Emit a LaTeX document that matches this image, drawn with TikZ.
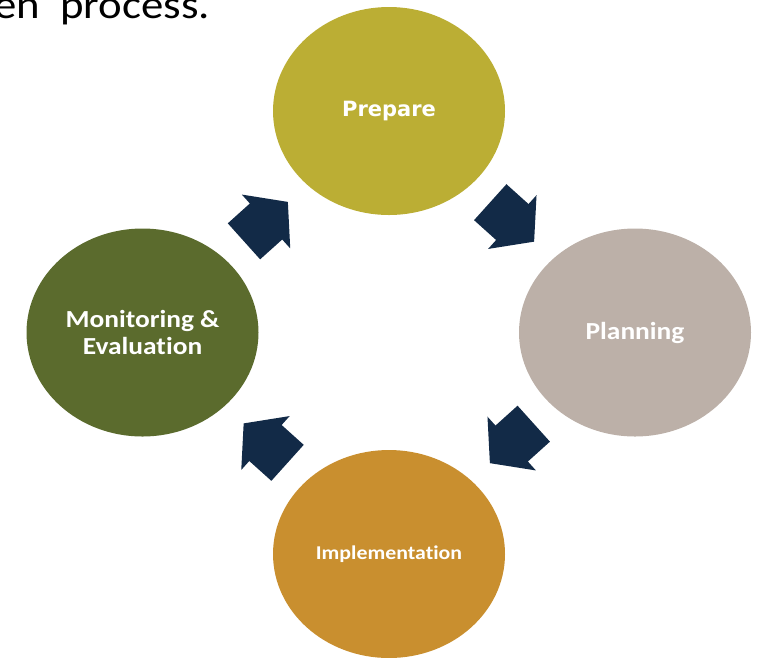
\documentclass[tikz,border=0pt]{standalone}
\usepackage{fontspec}
\newfontfamily\calfont[FakeStretch=1.12,Ligatures=NoCommon]{Carlito}
\newfontfamily\dvfont{DejaVu Sans}
\usetikzlibrary{shapes.geometric}
\usetikzlibrary{shapes.arrows}
\definecolor{prepcol}{RGB}{187,174,52}
\definecolor{plancol}{RGB}{188,176,168}
\definecolor{implcol}{RGB}{201,143,47}
\definecolor{moncol}{RGB}{91,107,45}
\definecolor{navy}{RGB}{18,42,71}
\tikzset{
  phase/.style={
    ellipse,
    minimum width=232pt,
    minimum height=208pt,
    inner sep=0,
    text=white,
    align=center,
  },
  ph0/.style={
    phase,
    fill=prepcol,
    font=\dvfont\bfseries\fontsize{21}{25}\selectfont
  },
  ph1/.style={
    phase,
    fill=plancol,
    font=\calfont\bfseries\fontsize{24.5}{27}\selectfont
  },
  ph2/.style={
    phase,
    fill=implcol,
    font=\calfont\bfseries\fontsize{19.5}{23}\selectfont
  },
  ph3/.style={
    phase,
    fill=moncol,
    font=\calfont\bfseries\fontsize{24.5}{27}\selectfont
  },
  turn/.style={
    single arrow,
    fill=navy,
    inner xsep=0,
    inner ysep=24pt,
    minimum height=59pt,
    single arrow head extend=12pt,
    single arrow tip angle=102,
    anchor=tail,
  }
}
\newcommand{\cyclestep}[2] {%
  \path (#1.center) -- (#2.center) node[turn,pos=.411,sloped,allow upside down] {}; % block arrow
}

\begin{document}
\begin{tikzpicture}[x=1pt,y=-1pt]
    \useasboundingbox (0,0) rectangle (760,657);

    \node[anchor=base east,inner sep=0,font=\calfont\fontsize{40}{44}\selectfont] (title) at (210,18.5) {en\ \ process.};

    \node[ph0] at (389,111) (prep) {Prepare};
    \node[ph1] at (635,332.5) (plan) {Planning};
    \node[ph2] at (389,554) (impl) {Implementation};
    \node[ph3] at (142.5,332.5) (mon) {Monitoring \&\\Evaluation};

    \cyclestep{prep}{plan}
    \cyclestep{plan}{impl}
    \cyclestep{impl}{mon}
    \cyclestep{mon}{prep}
  \end{tikzpicture}
\end{document}
